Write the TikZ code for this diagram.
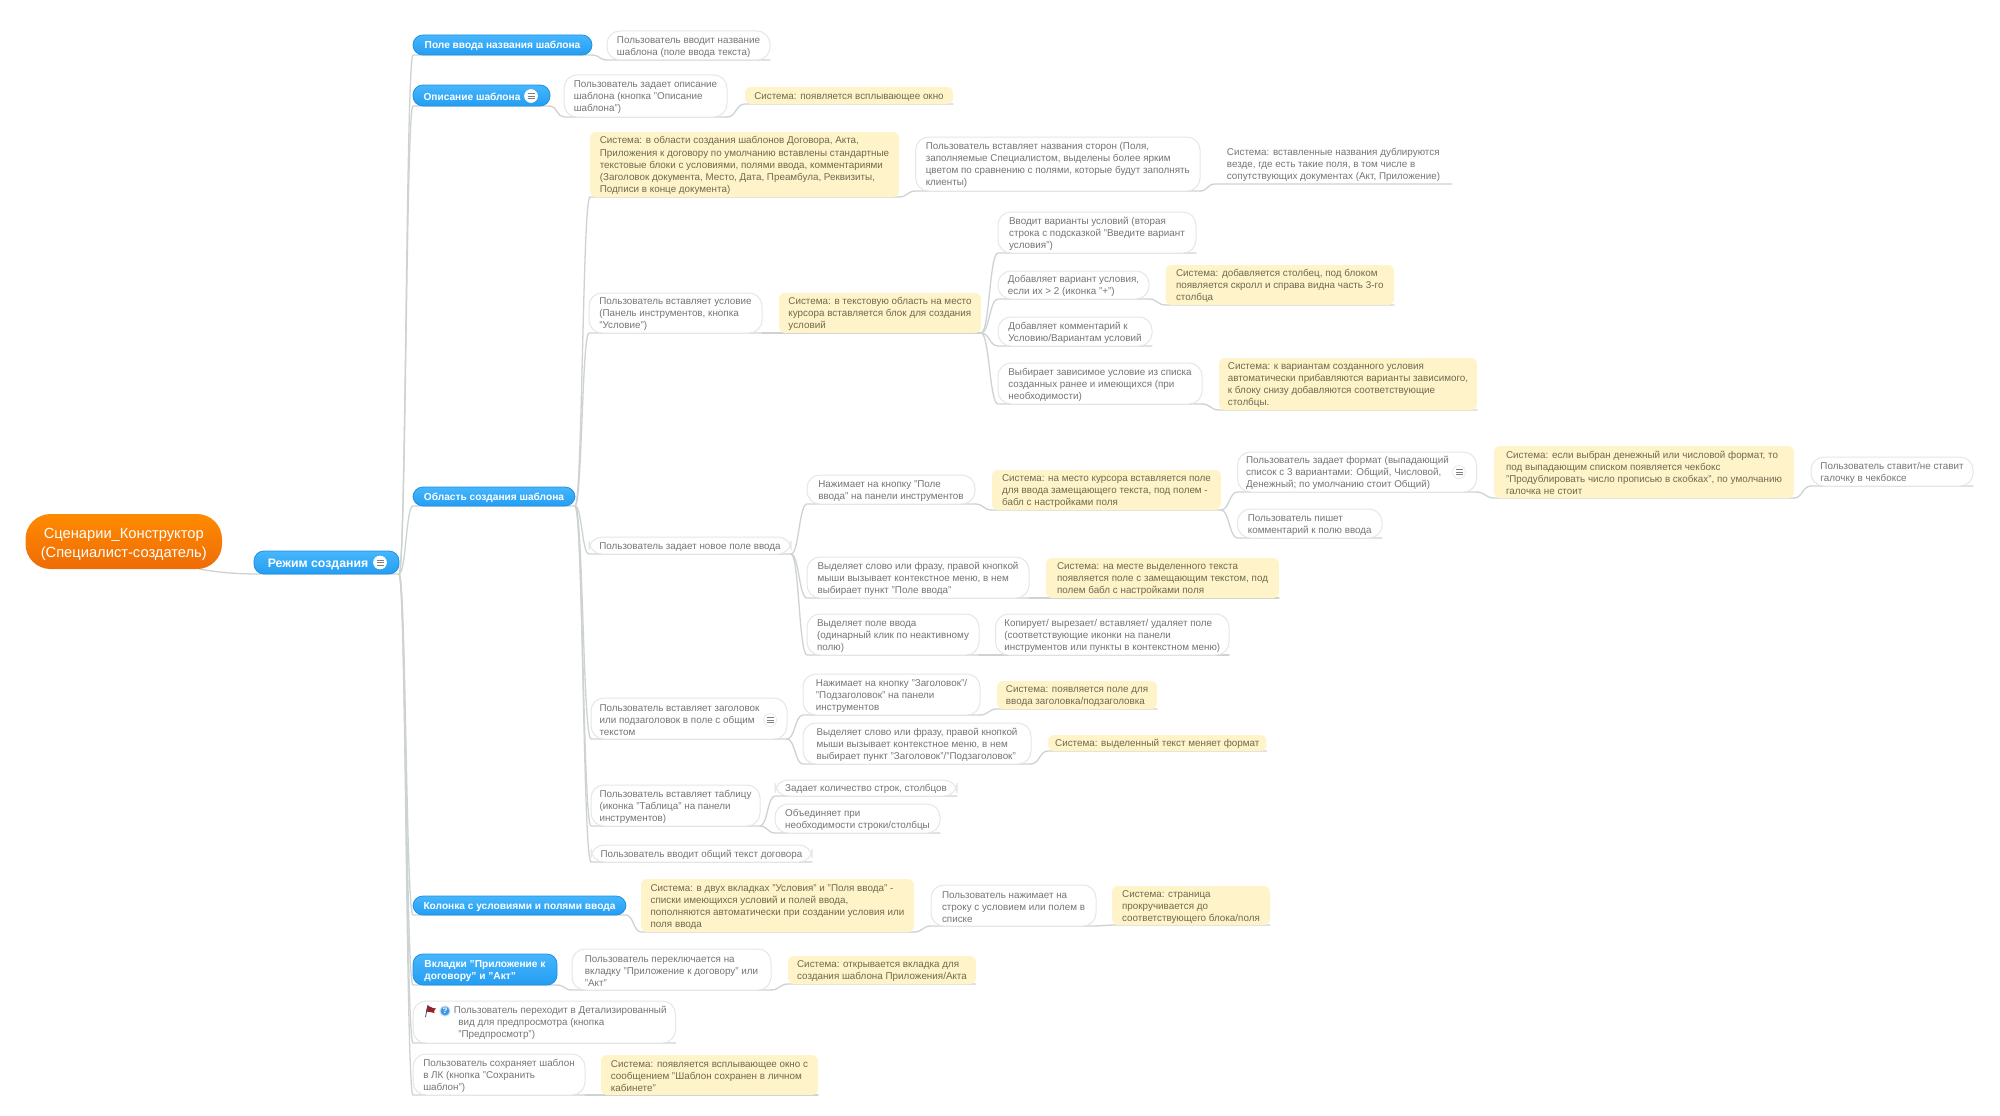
\documentclass[tikz,border=0pt]{standalone}
\usepackage{fontspec}
\setmainfont{Liberation Sans}
\usetikzlibrary{calc,backgrounds}
\definecolor{linkc}{HTML}{CDD2D2}
\definecolor{wborder}{HTML}{E6E6E6}
\definecolor{wtext}{HTML}{757575}
\definecolor{ytext}{HTML}{6E6A50}
\definecolor{yfill}{HTML}{FFF4C9}
\definecolor{btop}{HTML}{47B6FC}
\definecolor{bbot}{HTML}{249DF2}
\definecolor{bdraw}{HTML}{1E90E6}
\definecolor{otop}{HTML}{FF8A00}
\definecolor{obot}{HTML}{EE6C06}
\definecolor{helpc}{HTML}{3C96E1}
\definecolor{flagc}{HTML}{96232A}
\tikzset{
  every node/.style={outer sep=0pt,inner sep=0pt,align=left,font=\fontsize{9.85}{12.1}\selectfont},
  link/.style={draw=linkc,line width=1.3pt,line cap=round},
  wbox/.style={draw=wborder,line width=1pt,fill=white,rounded corners=13pt,text=wtext},
  ybox/.style={fill=yfill,rounded corners=6pt,text=ytext},
  pbox/.style={text=wtext},
  bbox/.style={draw=bdraw,line width=.8pt,top color=btop,bottom color=bbot,rounded corners=10pt,text=white,font=\fontsize{10.15}{12.1}\selectfont\bfseries},
  rootbox/.style={top color=otop,bottom color=obot,rounded corners=25pt,text=white,align=center,font=\fontsize{14.7}{19.3}\selectfont},
  noteic/.pic={
    \draw[draw=#1,fill=white,line width=.6pt] (0,0) circle (6.5pt);
    \draw[draw=gray,line width=.8pt] (-3.5,-2.5) -- (3.5,-2.5) (-3.5,0) -- (3.5,0) (-3.5,2.5) -- (3.5,2.5);
  }
}
\newcommand\bx[7]{\node[#6,minimum width={(#4-(#2))*1pt},minimum height={(#5-(#3))*1pt}] (#1) at ({(#2+#4)/2},{(#3+#5)/2}) {\rule{0pt}{9.4pt}#7};}
\newcommand\lnk[2]{%
  \coordinate (mid) at ($(#1.south east)!.5!(#2.south west)$);
  \draw[link] (#1.south east) .. controls (mid |- #1.south east) and (mid |- #2.south west) .. (#2.south west) -- (#2.south east);}
\begin{document}
\begin{tikzpicture}[x=1pt,y=-1pt]
\useasboundingbox (0,0) rectangle (2000,1116);
\bx{root}{25.5}{514}{222}{569}{rootbox}{\rule{0pt}{15.5pt}Сценарии\_Конструктор\\(Специалист-создатель)}
\bx{rezhim}{254}{551}{399}{574}{bbox,font=\fontsize{12.3}{15}\selectfont\bfseries}{\rule{0pt}{11.5pt}Режим создания\hspace*{17pt}}
\bx{pole}{413}{35}{592}{55}{bbox}{Поле ввода названия шаблона}
\bx{vvodit}{607}{31}{770}{60}{wbox}{Пользователь вводит название\\шаблона (поле ввода текста)}
\bx{opis}{413}{85}{550}{106}{bbox}{Описание шаблона\hspace*{19pt}}
\bx{zadaet}{564}{75}{727}{117}{wbox}{Пользователь задает описание\\шаблона (кнопка "Описание\\шаблона")}
\bx{sysokno}{745}{87}{953}{104}{ybox}{Система: появляется всплывающее окно}
\bx{oblast}{413}{487}{575}{506}{bbox}{Область создания шаблона}
\bx{sysobl}{590}{132}{899}{197}{ybox}{Система: в области создания шаблонов Договора, Акта,\\Приложения к договору по умолчанию вставлены стандартные\\текстовые блоки с условиями, полями ввода, комментариями\\(Заголовок документа, Место, Дата, Преамбула, Реквизиты,\\Подписи в конце документа)}
\bx{vstnaz}{915.6}{137}{1200}{191}{wbox}{Пользователь вставляет названия сторон (Поля,\\заполняемые Специалистом, выделены более ярким\\цветом по сравнению с полями, которые будут заполнять\\клиенты)}
\bx{sysvst}{1215}{143}{1452}{184}{pbox}{Система: вставленные названия дублируются\\везде, где есть такие поля, в том числе в\\сопутствующих документах (Акт, Приложение)}
\bx{uslovie}{589}{293}{762}{333}{wbox}{Пользователь вставляет условие\\(Панель инструментов, кнопка\\"Условие")}
\bx{sysusl}{779}{293}{981}{333}{ybox}{Система: в текстовую область на место\\курсора вставляется блок для создания\\условий}
\bx{vvodvar}{998}{212}{1196}{253}{wbox}{Вводит варианты условий (вторая\\строка с подсказкой "Введите вариант\\условия")}
\bx{dobvar}{998}{271}{1149}{299}{wbox}{Добавляет вариант условия,\\если их > 2 (иконка "+")}
\bx{sysdob}{1165.5}{265}{1394}{305}{ybox}{Система: добавляется столбец, под блоком\\появляется скролл и справа видна часть 3-го\\столбца}
\bx{dobkom}{998}{317}{1152}{346}{wbox}{Добавляет комментарий к\\Условию/Вариантам условий}
\bx{vybir}{998}{363}{1202}{404}{wbox}{Выбирает зависимое условие из списка\\созданных ранее и имеющихся (при\\необходимости)}
\bx{sysvyb}{1219}{358}{1477}{410}{ybox}{Система: к вариантам созданного условия\\автоматически прибавляются варианты зависимого,\\к блоку снизу добавляются соответствующие\\столбцы.}
\bx{novoe}{589}{537}{791}{554}{wbox}{Пользователь задает новое поле ввода}
\bx{nazh}{807}{475}{975}{504}{wbox}{Нажимает на кнопку "Поле\\ввода" на панели инструментов}
\bx{sysmesto}{992}{470}{1221}{510}{ybox}{Система: на место курсора вставляется поле\\для ввода замещающего текста, под полем -\\бабл с настройками поля}
\bx{format}{1237.5}{452}{1476.5}{492}{wbox}{Пользователь задает формат (выпадающий\hspace*{19pt}\\список с 3 вариантами: Общий, Числовой,\\Денежный; по умолчанию стоит Общий)}
\bx{sysesli}{1494}{446}{1794}{498}{ybox}{Система: если выбран денежный или числовой формат, то\\под выпадающим списком появляется чекбокс\\"Продублировать число прописью в скобках", по умолчанию\\галочка не стоит}
\bx{stavit}{1811}{457}{1973}{486}{wbox}{Пользователь ставит/не ставит\\галочку в чекбоксе}
\bx{pishet}{1237.5}{509}{1382}{538}{wbox}{Пользователь пишет\\комментарий к полю ввода}
\bx{vyd}{807}{557}{1029}{598}{wbox}{Выделяет слово или фразу, правой кнопкой\\мыши вызывает контекстное меню, в нем\\выбирает пункт "Поле ввода"}
\bx{sysmeste}{1046}{558}{1279}{598}{ybox}{Система: на месте выделенного текста\\появляется поле с замещающим текстом, под\\полем бабл с настройками поля}
\bx{vydpole}{807}{614}{979}{655}{wbox}{Выделяет поле ввода\\(одинарный клик по неактивному\\полю)}
\bx{kopir}{995.5}{614}{1229}{655}{wbox}{Копирует/ вырезает/ вставляет/ удаляет поле\\(соответствующие иконки на панели\\инструментов или пункты в контекстном меню)}
\bx{zagol}{591}{698}{787}{739}{wbox}{Пользователь вставляет заголовок\hspace*{19pt}\\или подзаголовок в поле с общим\\текстом}
\bx{nazhz}{803}{674}{980}{715}{wbox}{Нажимает на кнопку "Заголовок"/\\"Подзаголовок" на панели\\инструментов}
\bx{syspoyav}{997}{681}{1157}{709}{ybox}{Система: появляется поле для\\ввода заголовка/подзаголовка}
\bx{vydz}{803}{723}{1031}{764}{wbox}{Выделяет слово или фразу, правой кнопкой\\мыши вызывает контекстное меню, в нем\\выбирает пункт "Заголовок"/"Подзаголовок"}
\bx{sysvyd}{1048}{735}{1266.5}{751}{ybox}{Система: выделенный текст меняет формат}
\bx{tabl}{591}{785}{760}{826}{wbox}{Пользователь вставляет таблицу\\(иконка "Таблица" на панели\\инструментов)}
\bx{zadkol}{775}{780}{957}{796}{wbox}{Задает количество строк, столбцов}
\bx{obed}{775}{804}{940}{833}{wbox}{Объединяет при\\необходимости строки/столбцы}
\bx{obsh}{591}{845}{812}{862}{wbox}{Пользователь вводит общий текст договора}
\bx{kolonka}{413}{896}{626}{915}{bbox}{Колонка с условиями и полями ввода}
\bx{sysdvuh}{641}{879}{914}{932}{ybox}{Система: в двух вкладках "Условия" и "Поля ввода" -\\списки имеющихся условий и полей ввода,\\пополняются автоматически при создании условия или\\поля ввода}
\bx{nazhstr}{931}{885}{1096}{926}{wbox}{Пользователь нажимает на\\строку с условием или полем в\\списке}
\bx{sysstr}{1112}{886}{1270}{925}{ybox}{Система: страница\\прокручивается до\\соответствующего блока/поля}
\bx{vkladki}{413}{954}{557}{985}{bbox}{Вкладки "Приложение к\\договору" и "Акт"}
\bx{perekl}{572}{949}{771}{990}{wbox}{Пользователь переключается на\\вкладку "Приложение к договору" или\\"Акт"}
\bx{sysotk}{788}{956}{976}{984}{ybox}{Система: открывается вкладка для\\создания шаблона Приложения/Акта}
\bx{perehod}{413}{1001}{675.5}{1043}{wbox}{\hspace*{32pt}Пользователь переходит в Детализированный\\\hspace*{36.5pt}вид для предпросмотра (кнопка\\\hspace*{36.5pt}"Предпросмотр")}
\bx{sohran}{413}{1054}{585}{1095}{wbox}{Пользователь сохраняет шаблон\\в ЛК (кнопка "Сохранить\\шаблон")}
\bx{syspop}{601}{1055}{818}{1095}{ybox}{Система: появляется всплывающее окно с\\сообщением "Шаблон сохранен в личном\\кабинете"}
% icons
\pic at (380,562.5) {noteic=white};
\pic at (531,96) {noteic=white};
\pic at (1459,472) {noteic=wborder};
\pic at (770,720) {noteic=wborder};
\node[circle,draw=helpc!35,line width=1pt,fill=helpc,text=white,minimum size=10pt,font=\fontsize{8}{9}\selectfont\bfseries] (help) at (445,1011) {?};
\fill[flagc] (427.5,1005.5) .. controls (430,1006) and (432,1008.5) .. (436,1008.5) .. controls (434,1010) and (433.5,1012) .. (434.5,1013) .. controls (431,1013) and (429,1011) .. (426,1011.5) -- cycle;
\draw[draw=black!70,line width=.8pt] (428,1005) -- (425.5,1017);
\begin{scope}[on background layer]
\coordinate (rootstart) at (199,569);
\coordinate (rezhimsw) at (rezhim.south west);
\draw[link] (rootstart) .. controls (222,573) and (235,573.5) .. (rezhimsw) -- (rezhim.south east);
\lnk{rezhim}{pole}\lnk{rezhim}{opis}\lnk{rezhim}{oblast}\lnk{rezhim}{kolonka}\lnk{rezhim}{vkladki}\lnk{rezhim}{perehod}\lnk{rezhim}{sohran}
\lnk{pole}{vvodit}\lnk{opis}{zadaet}\lnk{zadaet}{sysokno}
\lnk{oblast}{sysobl}\lnk{oblast}{uslovie}\lnk{oblast}{novoe}\lnk{oblast}{zagol}\lnk{oblast}{tabl}\lnk{oblast}{obsh}
\lnk{sysobl}{vstnaz}\lnk{vstnaz}{sysvst}
\lnk{uslovie}{sysusl}\lnk{sysusl}{vvodvar}\lnk{sysusl}{dobvar}\lnk{sysusl}{dobkom}\lnk{sysusl}{vybir}
\lnk{dobvar}{sysdob}\lnk{vybir}{sysvyb}
\lnk{novoe}{nazh}\lnk{novoe}{vyd}\lnk{novoe}{vydpole}
\lnk{nazh}{sysmesto}\lnk{sysmesto}{format}\lnk{sysmesto}{pishet}\lnk{format}{sysesli}\lnk{sysesli}{stavit}
\lnk{vyd}{sysmeste}\lnk{vydpole}{kopir}
\lnk{zagol}{nazhz}\lnk{zagol}{vydz}\lnk{nazhz}{syspoyav}\lnk{vydz}{sysvyd}
\lnk{tabl}{zadkol}\lnk{tabl}{obed}
\lnk{kolonka}{sysdvuh}\lnk{sysdvuh}{nazhstr}\lnk{nazhstr}{sysstr}
\lnk{vkladki}{perekl}\lnk{perekl}{sysotk}
\lnk{sohran}{syspop}
\end{scope}
\end{tikzpicture}
\end{document}
